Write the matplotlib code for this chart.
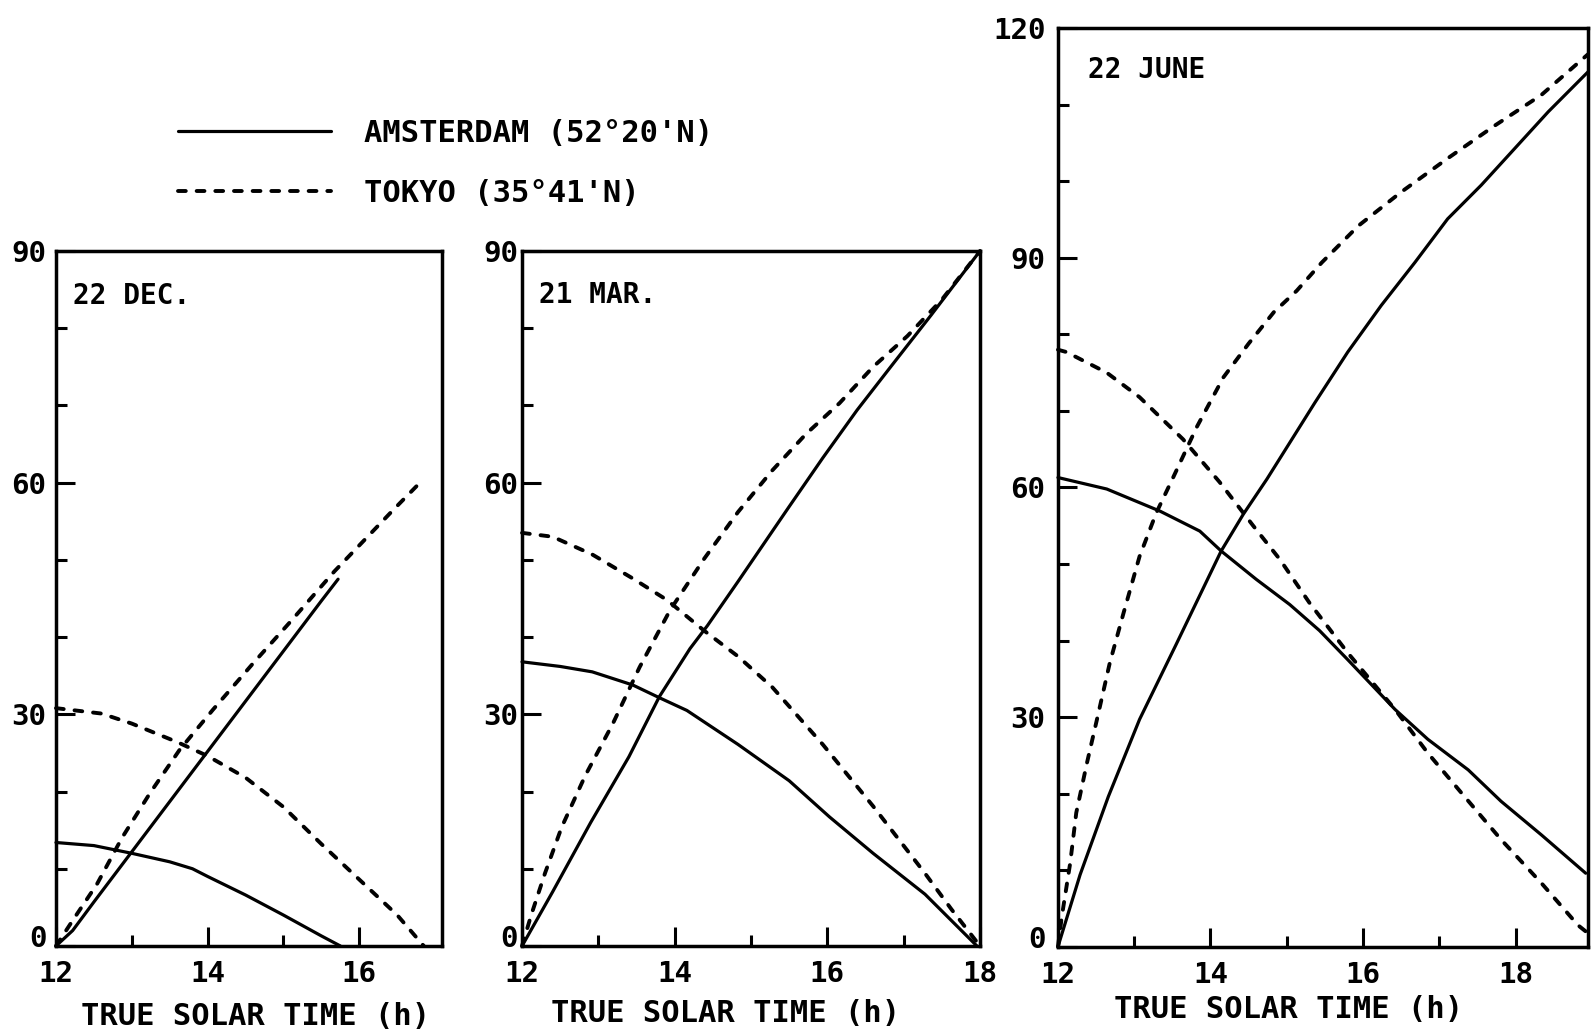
import matplotlib
matplotlib.use('Agg')
import matplotlib.pyplot as plt
import matplotlib.transforms as mtransforms
from matplotlib.ticker import FixedLocator

plt.rcParams['font.family'] = ['DejaVu Sans Mono']
plt.rcParams['font.weight'] = 'bold'

# 22 December
dec_ams_alt_t = [12.0, 12.5, 13.0, 13.5, 13.8, 14.0, 14.5, 15.0, 15.5, 15.75]
dec_ams_alt = [13.4, 13.0, 12.0, 10.9, 10.0, 9.0, 6.6, 4.0, 1.3, 0.0]
dec_ams_az_t = [12.0, 12.22, 12.5, 13.0, 13.5, 14.0, 14.5, 15.0, 15.5, 15.72]
dec_ams_az = [0.0, 2.0, 5.7, 12.2, 18.7, 25.2, 31.7, 38.2, 44.7, 47.5]
dec_tok_alt_t = [12.0, 12.6, 13.0, 13.6, 14.0, 14.5, 15.0, 15.5, 16.0, 16.5, 16.85]
dec_tok_alt = [30.8, 30.1, 28.8, 26.4, 24.6, 21.8, 18.0, 13.2, 8.6, 4.0, 0.0]
dec_tok_az_t = [12.0, 12.22, 12.54, 12.87, 13.24, 13.63, 14.07, 14.59, 15.11, 15.67, 16.07, 16.45, 16.85]
dec_tok_az = [0.0, 3.3, 8.0, 14.0, 19.8, 25.4, 30.6, 36.5, 42.2, 48.5, 52.6, 56.5, 60.5]

# 21 March
mar_ams_alt_t = [12.0, 12.5, 12.92, 13.45, 13.81, 14.16, 14.83, 15.5, 16.03, 16.6, 17.28, 17.96]
mar_ams_alt = [36.8, 36.2, 35.5, 33.8, 32.1, 30.5, 26.1, 21.4, 16.7, 12.0, 6.7, 0.0]
mar_ams_az_t = [12.0, 12.4, 12.9, 13.4, 13.8, 14.2, 14.43, 14.83, 15.5, 15.94, 16.39, 16.83, 17.36, 18.0]
mar_ams_az = [0.0, 7.0, 16.0, 24.5, 32.3, 38.5, 41.5, 47.2, 56.9, 63.2, 69.4, 75.0, 81.7, 90.0]
mar_tok_alt_t = [12.0, 12.4, 12.92, 13.45, 13.9, 14.39, 14.83, 15.28, 15.94, 16.6, 17.28, 17.63, 18.0]
mar_tok_alt = [53.5, 53.0, 50.7, 47.6, 44.8, 40.8, 37.5, 33.5, 26.1, 18.1, 9.4, 4.7, 0.0]
mar_tok_az_t = [12.0, 12.12, 12.3, 12.52, 12.83, 13.19, 13.54, 13.94, 14.39, 14.83, 15.28, 15.72,
                16.16, 16.6, 17.05, 17.5, 18.0]
mar_tok_az = [0.0, 4.0, 9.4, 15.4, 22.1, 28.8, 36.1, 43.5, 50.2, 56.2, 61.6, 66.3,
              70.3, 75.0, 79.0, 83.7, 90.0]

# 22 June
jun_ams_alt_t = [12.0, 12.64, 13.34, 13.86, 14.14, 14.6, 15.04, 15.43, 15.8, 16.42, 16.85, 17.38,
                 17.81, 18.34, 18.92]
jun_ams_alt = [61.3, 59.8, 56.9, 54.3, 51.7, 48.0, 44.7, 41.3, 37.5, 31.0, 27.1, 23.1,
               19.0, 14.6, 9.6]
jun_ams_az_t = [12.0, 12.29, 12.66, 13.07, 13.55, 14.14, 14.43, 14.74, 15.37, 15.8, 16.24, 16.68,
                17.11, 17.55, 17.99, 18.43, 18.95]
jun_ams_az = [0.0, 9.4, 19.6, 29.7, 39.5, 51.7, 56.5, 61.1, 71.1, 77.7, 83.8, 89.4,
              95.1, 99.5, 104.3, 109.1, 114.3]
jun_tok_alt_t = [12.0, 12.11, 12.64, 13.07, 13.64, 14.12, 14.56, 14.91, 15.3, 15.8, 16.42, 16.85,
                 17.29, 17.81, 18.34, 18.82, 18.92]
jun_tok_alt = [78.0, 77.7, 75.0, 71.8, 66.3, 60.7, 55.0, 50.6, 44.9, 38.4, 31.0, 25.3,
               20.1, 14.0, 8.3, 2.8, 2.0]
jun_tok_az_t = [12.0, 12.05, 12.16, 12.24, 12.38, 12.53, 12.68, 12.86, 13.07, 13.29, 13.51, 13.82,
                14.17, 14.5, 14.83, 15.13, 15.46, 15.94, 16.5, 17.11, 17.73, 18.34, 18.95]
jun_tok_az = [0.0, 3.9, 10.9, 17.5, 24.0, 30.5, 37.1, 43.6, 51.0, 56.7, 61.3, 67.9,
              74.4, 78.8, 82.9, 85.7, 89.4, 94.2, 98.6, 103.0, 107.3, 111.3, 116.6]

panels = [
    dict(title='22 DEC.', xlim=17.09, ymax=90, xt=[12, 14, 16], xm=[13, 15],
         yt=[0, 30, 60, 90], ym=[10, 20, 40, 50, 70, 80],
         pos=[0.0351, 0.0869, 0.2420, 0.6708], ypad=7, tpos=(0.044, 0.935), lpos=(0.518, -0.102),
         ams=[(dec_ams_alt_t, dec_ams_alt), (dec_ams_az_t, dec_ams_az)],
         tok=[(dec_tok_alt_t, dec_tok_alt), (dec_tok_az_t, dec_tok_az)]),
    dict(title='21 MAR.', xlim=18.0, ymax=90, xt=[12, 14, 16, 18], xm=[13, 15, 17],
         yt=[0, 30, 60, 90], ym=[10, 20, 40, 50, 70, 80],
         pos=[0.3273, 0.0869, 0.2871, 0.6708], ypad=3, tpos=(0.037, 0.937), lpos=(0.445, -0.097),
         ams=[(mar_ams_alt_t, mar_ams_alt), (mar_ams_az_t, mar_ams_az)],
         tok=[(mar_tok_alt_t, mar_tok_alt), (mar_tok_az_t, mar_tok_az)]),
    dict(title='22 JUNE', xlim=18.95, ymax=120, xt=[12, 14, 16, 18], xm=[13, 15, 17],
         yt=[0, 30, 60, 90, 120], ym=[10, 20, 40, 50, 70, 80, 100, 110],
         pos=[0.6633, 0.0862, 0.3323, 0.8865], ypad=9, tpos=(0.056, 0.955), lpos=(0.435, -0.068),
         ams=[(jun_ams_alt_t, jun_ams_alt), (jun_ams_az_t, jun_ams_az)],
         tok=[(jun_tok_alt_t, jun_tok_alt), (jun_tok_az_t, jun_tok_az)]),
]

fig = plt.figure(figsize=(15.95, 10.36), dpi=100)
lift = mtransforms.ScaledTranslation(0, 10 / 100, fig.dpi_scale_trans)

for p in panels:
    ax = fig.add_axes(p['pos'])
    for t, v in p['ams']:
        h_ams, = ax.plot(t, v, color='black', lw=2.3, solid_capstyle='round', clip_on=False)
    for t, v in p['tok']:
        h_tok, = ax.plot(t, v, color='black', lw=2.8, dashes=(2.0, 2.8),
                         dash_capstyle='round', clip_on=False)
    ax.set_xlim(12, p['xlim'])
    ax.set_ylim(0, p['ymax'])
    ax.set_xticks(p['xt'])
    ax.set_yticks(p['yt'])
    ax.xaxis.set_minor_locator(FixedLocator(p['xm']))
    ax.yaxis.set_minor_locator(FixedLocator(p['ym']))
    ax.tick_params(which='both', direction='in', width=2.2, labelsize=21)
    ax.tick_params(which='major', length=14)
    ax.tick_params(which='minor', length=8)
    ax.tick_params(axis='x', pad=10)
    ax.tick_params(axis='y', pad=p['ypad'])
    # the "0" on the y axis sits a little above the bottom spine
    zero_lab = ax.get_yticklabels()[0]
    zero_lab.set_transform(zero_lab.get_transform() + lift)
    for s in ax.spines.values():
        s.set_linewidth(2.5)
    ax.text(p['tpos'][0], p['tpos'][1], p['title'], transform=ax.transAxes,
            ha='left', va='center', fontsize=20)
    ax.text(p['lpos'][0], p['lpos'][1], 'TRUE SOLAR TIME (h)', transform=ax.transAxes,
            ha='center', va='center', fontsize=22)

fig.legend([h_ams, h_tok], ["AMSTERDAM (52°20'N)", "TOKYO (35°41'N)"],
           loc='upper left', bbox_to_anchor=(178 / 1595, 1 - 119 / 1036),
           frameon=False, fontsize=22, handlelength=5.0, handletextpad=1.1,
           labelspacing=1.0, borderpad=0, borderaxespad=0)

plt.savefig('out.png', dpi=100)
plt.close()
